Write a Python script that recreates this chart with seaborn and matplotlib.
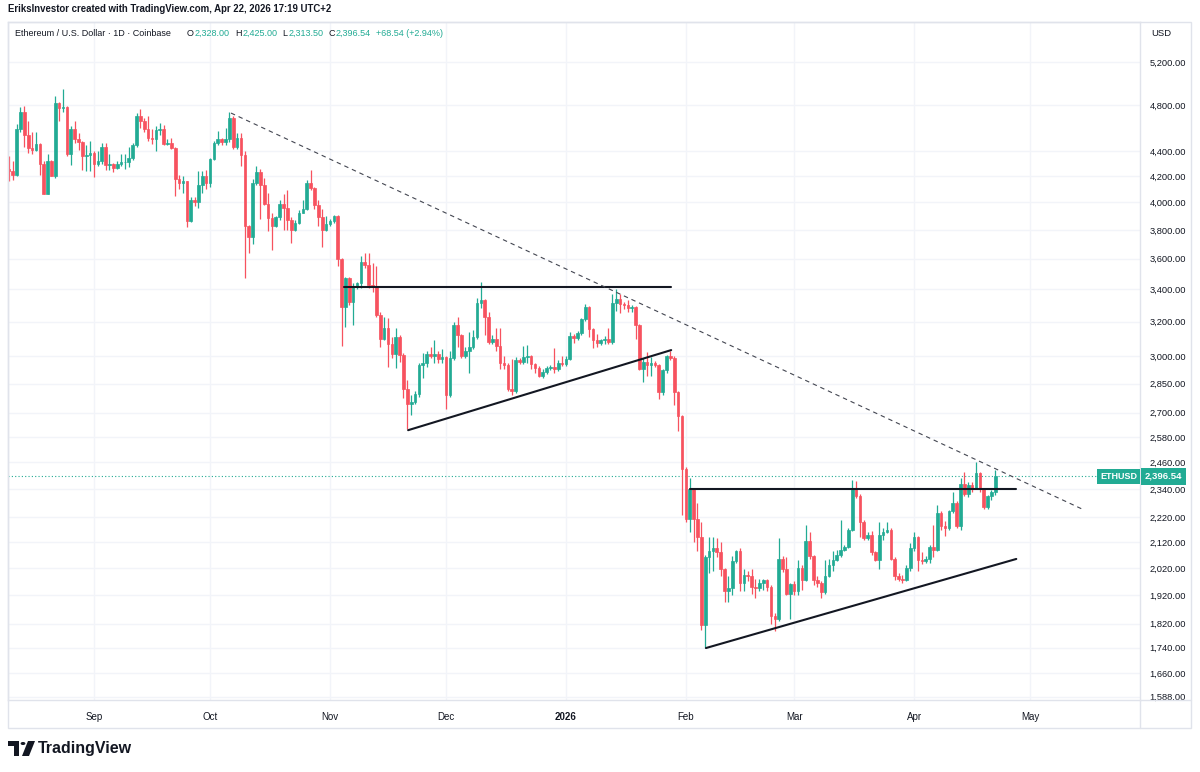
import matplotlib
matplotlib.use('Agg')
import matplotlib.pyplot as plt
import matplotlib.dates as mdates
from matplotlib.ticker import FixedLocator, FixedFormatter, NullLocator
from matplotlib.patches import Rectangle, Circle, Polygon
from matplotlib.transforms import blended_transform_factory
import numpy as np
import pandas as pd
import seaborn as sns

sns.set_theme(style='white')
plt.rcParams['font.family'] = ['Liberation Sans', 'DejaVu Sans']

UP = '#22ab94'
DOWN = '#f7525f'
TXT = '#131722'
GRID = '#f2f4f9'
FRAME = '#e0e3eb'

# daily candles (open, high, low, close)
aug = [  # Aug 10 - 31, 2025
    (4260, 4360, 4160, 4240), (4240, 4320, 4170, 4210), (4210, 4630, 4200, 4590),
    (4590, 4780, 4560, 4735), (4735, 4790, 4440, 4540), (4540, 4655, 4390, 4430),
    (4430, 4560, 4380, 4410), (4410, 4565, 4400, 4460), (4460, 4470, 4210, 4300),
    (4300, 4320, 4060, 4065), (4065, 4380, 4060, 4320), (4320, 4330, 4200, 4205),
    (4205, 4880, 4190, 4820), (4820, 4830, 4655, 4770), (4770, 4940, 4740, 4780),
    (4780, 4790, 4360, 4380), (4380, 4610, 4290, 4590), (4590, 4655, 4470, 4500),
    (4500, 4550, 4410, 4480), (4480, 4490, 4250, 4360), (4360, 4450, 4240, 4370),
    (4370, 4490, 4240, 4390),
]
sep = [
    (4390, 4400, 4195, 4300), (4300, 4400, 4280, 4320), (4320, 4470, 4300, 4440),
    (4440, 4470, 4250, 4290), (4290, 4380, 4250, 4300), (4300, 4305, 4230, 4265),
    (4265, 4320, 4255, 4300), (4300, 4380, 4280, 4310), (4310, 4380, 4260, 4315),
    (4315, 4440, 4270, 4345), (4345, 4470, 4330, 4450), (4450, 4730, 4440, 4700),
    (4700, 4760, 4600, 4655), (4655, 4680, 4560, 4590), (4590, 4700, 4490, 4510),
    (4510, 4590, 4460, 4500), (4500, 4610, 4400, 4580), (4580, 4640, 4540, 4590),
    (4590, 4620, 4450, 4460), (4460, 4500, 4450, 4470), (4470, 4510, 4420, 4430),
    (4430, 4440, 4050, 4180), (4180, 4210, 4100, 4150), (4150, 4200, 4070, 4160),
    (4160, 4165, 3820, 3860), (3860, 4040, 3855, 4020), (4020, 4040, 3970, 4005),
    (4005, 4240, 3960, 4130), (4130, 4240, 4070, 4205), (4205, 4250, 4100, 4145),
]
octo = [
    (4145, 4350, 4120, 4340), (4340, 4490, 4330, 4470), (4470, 4570, 4450, 4500),
    (4500, 4510, 4450, 4475), (4475, 4600, 4450, 4500), (4500, 4740, 4480, 4685),
    (4685, 4700, 4420, 4435), (4435, 4550, 4420, 4515), (4515, 4550, 4280, 4370),
    (4370, 4400, 3470, 3830), (3830, 3835, 3640, 3750), (3750, 4180, 3700, 4150),
    (4150, 4280, 4130, 4235), (4235, 4260, 3880, 4130), (4130, 4190, 3980, 3990),
    (3990, 4070, 3790, 3885), (3885, 3920, 3660, 3830), (3830, 3900, 3820, 3890),
    (3890, 4020, 3870, 3990), (3990, 4060, 3800, 3960), (3960, 4090, 3800, 3870),
    (3870, 3890, 3710, 3800), (3800, 3870, 3790, 3850), (3850, 3940, 3840, 3925),
    (3925, 4020, 3920, 3950), (3950, 4170, 3940, 4150), (4150, 4250, 4090, 4110),
    (4110, 4120, 3950, 3980), (3980, 4020, 3830, 3890), (3890, 3950, 3680, 3800),
    (3800, 3900, 3790, 3840),
]
nov = [
    (3840, 3880, 3830, 3865), (3865, 3910, 3850, 3900), (3900, 3910, 3550, 3600),
    (3600, 3605, 3060, 3290), (3290, 3480, 3170, 3470), (3470, 3480, 3300, 3320),
    (3320, 3440, 3180, 3420), (3420, 3450, 3400, 3440), (3440, 3620, 3410, 3580),
    (3580, 3640, 3540, 3555), (3555, 3640, 3410, 3430), (3430, 3570, 3380, 3420),
    (3420, 3550, 3230, 3240), (3240, 3260, 3050, 3100), (3100, 3230, 3090, 3165),
    (3165, 3220, 2940, 3070), (3070, 3110, 2990, 3015), (3015, 3160, 2935, 3110),
    (3110, 3120, 2970, 3010), (3010, 3020, 2775, 2820), (2820, 2870, 2620, 2745),
    (2745, 2790, 2690, 2755), (2755, 2810, 2745, 2795), (2795, 2965, 2780, 2950),
    (2950, 3020, 2880, 2960), (2960, 3030, 2940, 3015), (3015, 3050, 2990, 3000),
    (3000, 3090, 2960, 3015), (3015, 3030, 2960, 2985), (2985, 3040, 2960, 2995),
]
dec = [
    (2995, 3000, 2720, 2790), (2790, 3030, 2780, 2990), (2990, 3200, 2980, 3180),
    (3180, 3230, 3050, 3120), (3120, 3130, 2990, 3000), (3000, 3055, 2990, 3030),
    (3030, 3140, 2910, 3050), (3050, 3150, 3040, 3110), (3110, 3345, 3100, 3315),
    (3315, 3450, 3285, 3330), (3330, 3340, 3120, 3230), (3230, 3260, 3070, 3080),
    (3080, 3120, 3070, 3100), (3100, 3160, 3030, 3060), (3060, 3160, 2930, 2965),
    (2965, 3000, 2930, 2950), (2950, 2965, 2810, 2820), (2820, 2985, 2790, 2810),
    (2810, 2995, 2800, 2980), (2980, 2990, 2955, 2970), (2970, 3060, 2955, 2995),
    (2995, 3065, 2960, 3000), (3000, 3010, 2930, 2955), (2955, 2960, 2910, 2935),
    (2935, 2945, 2885, 2890), (2890, 2930, 2880, 2915), (2915, 2945, 2905, 2935),
    (2935, 2950, 2925, 2940), (2940, 3045, 2910, 2930), (2930, 2980, 2920, 2965),
    (2965, 3000, 2945, 2955),
]
jan = [  # 2026
    (2955, 3000, 2945, 2985), (2985, 3140, 2980, 3115), (3115, 3130, 3075, 3105),
    (3105, 3145, 3095, 3135), (3135, 3225, 3120, 3215), (3215, 3310, 3205, 3290),
    (3290, 3295, 3110, 3155), (3155, 3160, 3045, 3090), (3090, 3130, 3055, 3075),
    (3075, 3100, 3065, 3090), (3090, 3115, 3070, 3100), (3100, 3160, 3070, 3080),
    (3080, 3370, 3070, 3315), (3315, 3400, 3265, 3340), (3340, 3370, 3250, 3310),
    (3310, 3320, 3280, 3300), (3300, 3330, 3260, 3285), (3285, 3300, 3260, 3290),
    (3290, 3295, 3100, 3180), (3180, 3185, 2925, 2930), (2930, 2990, 2860, 2970),
    (2970, 3025, 2890, 2950), (2950, 2995, 2890, 2965), (2965, 2975, 2940, 2950),
    (2950, 2955, 2770, 2805), (2805, 2930, 2790, 2925), (2925, 3010, 2910, 3000),
    (3000, 3030, 2980, 2990), (2990, 3000, 2740, 2805), (2805, 2810, 2610, 2685),
    (2685, 2690, 2230, 2430),
]
feb = [
    (2430, 2440, 2200, 2215), (2215, 2390, 2160, 2340), (2340, 2345, 2120, 2215),
    (2215, 2280, 2085, 2140), (2140, 2200, 1800, 1815), (1815, 2070, 1740, 2060),
    (2060, 2140, 2000, 2085), (2085, 2140, 2010, 2095), (2095, 2135, 2060, 2080),
    (2080, 2120, 1990, 2015), (2015, 2020, 1895, 1935), (1935, 1990, 1895, 1945),
    (1945, 2065, 1920, 2045), (2045, 2090, 2040, 2085), (2085, 2095, 1935, 1965),
    (1965, 2015, 1935, 1995), (1995, 2010, 1970, 1990), (1990, 2015, 1925, 1950),
    (1950, 1980, 1910, 1945), (1945, 1980, 1935, 1965), (1965, 1980, 1940, 1975),
    (1975, 1980, 1935, 1950), (1950, 1955, 1820, 1845), (1845, 1855, 1795, 1835),
    (1835, 2135, 1830, 2055), (2055, 2065, 2005, 2015), (2015, 2060, 1920, 1925),
    (1925, 1965, 1835, 1960),
]
mar = [
    (1960, 1970, 1920, 1935), (1935, 2050, 1920, 2020), (2020, 2030, 1940, 1975),
    (1975, 2190, 1970, 2125), (2125, 2160, 2055, 2065), (2065, 2070, 1955, 1975),
    (1975, 1990, 1950, 1965), (1965, 1970, 1910, 1930), (1930, 2050, 1925, 1990),
    (1990, 2055, 1985, 2030), (2030, 2085, 2010, 2050), (2050, 2090, 2045, 2070),
    (2070, 2210, 2060, 2090), (2090, 2110, 2085, 2100), (2100, 2175, 2095, 2170),
    (2170, 2380, 2165, 2340), (2340, 2375, 2300, 2310), (2310, 2320, 2140, 2200),
    (2200, 2210, 2130, 2135), (2135, 2160, 2130, 2150), (2150, 2165, 2070, 2080),
    (2080, 2085, 2045, 2050), (2050, 2200, 2015, 2150), (2150, 2175, 2130, 2160),
    (2160, 2200, 2155, 2170), (2170, 2175, 2050, 2055), (2055, 2060, 1975, 1990),
    (1990, 2000, 1970, 1980), (1980, 1995, 1965, 1975), (1975, 2030, 1970, 2020),
    (2020, 2115, 2010, 2095),
]
apr = [
    (2095, 2160, 2085, 2140), (2140, 2145, 2010, 2050), (2050, 2080, 2035, 2045),
    (2045, 2065, 2040, 2055), (2055, 2110, 2040, 2100), (2100, 2190, 2060, 2090),
    (2090, 2270, 2085, 2240), (2240, 2245, 2170, 2185), (2185, 2205, 2145, 2175),
    (2175, 2250, 2170, 2245), (2245, 2330, 2240, 2280), (2280, 2290, 2175, 2185),
    (2185, 2390, 2170, 2365), (2365, 2415, 2310, 2320), (2320, 2370, 2305, 2360),
    (2360, 2370, 2330, 2345), (2345, 2460, 2340, 2410), (2410, 2415, 2330, 2340),
    (2340, 2345, 2255, 2265), (2265, 2315, 2255, 2310), (2310, 2335, 2295, 2328),
    (2328, 2425, 2313.5, 2396.54),
]
first_day = '2025-08-10'

# drawn trendlines: (start date, end date), (start price, end price)
dashed_dates = ['2025-10-06 10:00', '2026-05-14 10:00']
dashed_prices = [4727, 2255]
solid_lines = {
    'top_2025': (['2025-11-04 14:00', '2026-01-28 05:00'], [3415, 3415]),
    'rise_2025': (['2025-11-21 05:00', '2026-01-28 05:00'], [2613, 3035]),
    'top_2026': (['2026-02-02 02:00', '2026-04-27 10:00'], [2341, 2341]),
    'rise_2026': (['2026-02-06 05:00', '2026-04-27 10:00'], [1739, 2054]),
}

y_ticks = [1588, 1660, 1740, 1820, 1920, 2020, 2120, 2220, 2340, 2460, 2580,
           2700, 2850, 3000, 3200, 3400, 3600, 3800, 4000, 4200, 4400, 4800, 5200]
month_starts = ['2025-09-01', '2025-10-01', '2025-11-01', '2025-12-01', '2026-01-01',
                '2026-02-01', '2026-03-01', '2026-04-01', '2026-05-01']
month_labels = ['Sep', 'Oct', 'Nov', 'Dec', '2026', 'Feb', 'Mar', 'Apr', 'May']
last_price = 2396.54
header_values = ['2,328.00', '2,425.00', '2,313.50', '2,396.54', '+68.54 (+2.94%)']

# ---------------------------------------------------------------
df = pd.DataFrame(aug + sep + octo + nov + dec + jan + feb + mar + apr,
                  columns=['open', 'high', 'low', 'close'])
df['date'] = pd.date_range(first_day, periods=len(df), freq='D')
df['x'] = mdates.date2num(df['date'])
df['color'] = np.where(df['close'] >= df['open'], UP, DOWN)

W, H = 1200, 772
def fx(px):
    return px / W
def fy(py):
    return 1 - py / H

fig = plt.figure(figsize=(12, 7.72), dpi=100)
ax = fig.add_axes([fx(8), fy(700), fx(1140) - fx(8), fy(22) - fy(700)])
ax.set_yscale('log')

ax.vlines(df['x'], df['low'], df['high'], colors=df['color'], linewidth=0.9, zorder=3)
body_lo = df[['open', 'close']].min(axis=1)
body_h = (df['close'] - df['open']).abs()
ax.bar(df['x'], body_h, bottom=body_lo, width=0.68, color=df['color'],
       edgecolor=df['color'], linewidth=0.5, zorder=4)

# trendlines
rows = []
for name, (dates, prices) in solid_lines.items():
    for d, p in zip(dates, prices):
        rows.append({'name': name, 'x': mdates.date2num(pd.Timestamp(d)), 'price': p})
lines = pd.DataFrame(rows)
sns.lineplot(data=lines, x='x', y='price', units='name', estimator=None, sort=False,
             color=TXT, linewidth=1.5, legend=False, ax=ax, zorder=6)
dash = pd.DataFrame({'x': mdates.date2num(pd.to_datetime(dashed_dates)), 'price': dashed_prices})
sns.lineplot(data=dash, x='x', y='price', color='#434651', linewidth=0.8,
             linestyle=(0, (4, 3.5)), ax=ax, zorder=6)

ax.axhline(last_price, color=UP, linestyle=(0, (1, 2)), linewidth=0.8, zorder=2)

# axes
sep1 = mdates.date2num(pd.Timestamp('2025-09-01'))
ax.set_xlim(sep1 - 22.23, sep1 + 270.4)
ax.set_ylim(1578, 5604)
ax.set_xlabel('')
ax.set_ylabel('')

ax.yaxis.tick_right()
ax.yaxis.set_major_locator(FixedLocator(y_ticks))
ax.yaxis.set_major_formatter(FixedFormatter([f'{v:,.2f}' for v in y_ticks]))
ax.yaxis.set_minor_locator(NullLocator())
ax.tick_params(axis='y', length=0, pad=7, labelsize=6.7, labelcolor=TXT)

month_x = mdates.date2num(pd.to_datetime(month_starts))
ax.xaxis.set_major_locator(FixedLocator(month_x))
ax.xaxis.set_major_formatter(FixedFormatter(month_labels))
ax.xaxis.set_minor_locator(NullLocator())
ax.tick_params(axis='x', length=0, pad=9, labelsize=7, labelcolor=TXT)
for lab in ax.get_xticklabels():
    if lab.get_text() == '2026':
        lab.set_fontweight('bold')

ax.grid(True, which='major', color=GRID, linewidth=1)
ax.set_axisbelow(True)
for s in ax.spines.values():
    s.set_color(FRAME)
    s.set_linewidth(1)

# last price labels
trans = blended_transform_factory(ax.transAxes, ax.transData)
ax.text(0.9975, last_price, 'ETHUSD', transform=trans, ha='right', va='center',
        fontsize=6.5, fontweight='bold', color='white', zorder=10,
        bbox=dict(boxstyle='square,pad=0.35', fc=UP, ec='none'))
ax.text(1.0045, last_price, f'{last_price:,.2f}', transform=trans, ha='left', va='center',
        fontsize=6.8, fontweight='bold', color='white', zorder=10, clip_on=False,
        bbox=dict(boxstyle='square,pad=0.4', fc=UP, ec='none'))

# outer frame and axis separators
fig.add_artist(Rectangle((fx(8), fy(728)), fx(1191) - fx(8), fy(22) - fy(728),
                         transform=fig.transFigure, fill=False, ec=FRAME, lw=1))
fig.add_artist(plt.Line2D([fx(1140), fx(1140)], [fy(700), fy(728)],
                          transform=fig.transFigure, color=FRAME, lw=1))
fig.add_artist(plt.Line2D([fx(1140), fx(1191)], [fy(700), fy(700)],
                          transform=fig.transFigure, color=FRAME, lw=1))

fig.text(fx(1151), fy(34), 'USD', fontsize=6.8, color=TXT, va='center', ha='left')

# header
fig.text(fx(8), fy(9), 'EriksInvestor created with TradingView.com, Apr 22, 2026 17:19 UTC+2',
         fontsize=6.9, fontweight='bold', color=TXT, va='center', ha='left')

fig.canvas.draw()
rend = fig.canvas.get_renderer()
pieces = [('Ethereum / U.S. Dollar \u00b7 1D \u00b7 Coinbase', TXT, 16),
          ('O', TXT, 1), (header_values[0], UP, 5),
          ('H', TXT, 1), (header_values[1], UP, 5),
          ('L', TXT, 1), (header_values[2], UP, 5),
          ('C', TXT, 1), (header_values[3], UP, 5),
          (header_values[4], UP, 0)]
xpos = 15
for txt, col, gap in pieces:
    t = fig.text(fx(xpos), fy(33), txt, fontsize=6.5, color=col, va='center', ha='left')
    xpos += t.get_window_extent(renderer=rend).width + gap

# TradingView logo
fig.add_artist(Polygon([(fx(8), fy(741)), (fx(19), fy(741)), (fx(19), fy(756)),
                        (fx(14), fy(756)), (fx(14), fy(746)), (fx(8), fy(746))],
                       closed=True, transform=fig.transFigure, fc=TXT, ec='none'))
fig.add_artist(Circle((fx(23), fy(743.5)), 2.4 / W, transform=fig.transFigure, fc=TXT, ec='none'))
fig.add_artist(Polygon([(fx(28), fy(741)), (fx(35), fy(741)), (fx(29), fy(756)), (fx(22), fy(756))],
                       closed=True, transform=fig.transFigure, fc=TXT, ec='none'))
fig.text(fx(38), fy(749), 'TradingView', fontsize=11.5, fontweight='bold', color=TXT,
         va='center', ha='left')

fig.savefig('out.png', dpi=100, facecolor='white')
